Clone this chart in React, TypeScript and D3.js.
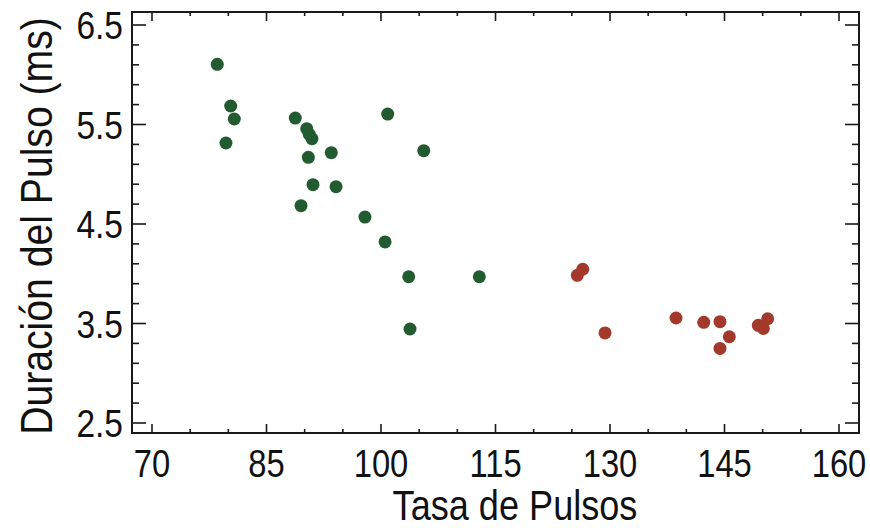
import React from "react";
import * as d3 from "d3";

const greenX = [78.55, 80.31, 80.78, 79.69, 88.77, 90.27, 90.61, 90.96, 90.48, 93.49, 91.09, 94.11, 89.52, 97.9, 100.88, 105.6, 100.53, 103.63, 112.88, 103.8];
const greenY = [6.105, 5.686, 5.555, 5.314, 5.565, 5.458, 5.4, 5.357, 5.17, 5.217, 4.895, 4.875, 4.684, 4.57, 5.605, 5.237, 4.32, 3.97, 3.97, 3.445];
const redX = [126.43, 125.72, 129.35, 138.65, 142.28, 144.41, 145.63, 144.41, 149.43, 150.09, 150.66];
const redY = [4.045, 3.984, 3.405, 3.555, 3.512, 3.518, 3.367, 3.25, 3.482, 3.45, 3.548];
const xTickLabels = [70, 85, 100, 115, 130, 145, 160];
const yTickLabels = [2.5, 3.5, 4.5, 5.5, 6.5];

const W = 870, H = 528;
const L = 132, R = 859, T = 12, B = 433;
const FONT = "'Liberation Sans', Arial, sans-serif";

export default function App() {
  const x = d3.scaleLinear().domain([70, 160]).range([152, 839]);
  const y = d3.scaleLinear().domain([2.5, 6.5]).range([423, 25]);
  const xMinor = d3.range(70, 161, 5);
  const yMinor = d3.range(0, 21).map((i) => 2.5 + i * 0.2);
  const green = greenX.map((v, i) => [v, greenY[i]]);
  const red = redX.map((v, i) => [v, redY[i]]);
  const stroke = "#1a1a1a";
  return (
    <svg width={W} height={H} style={{ position: "absolute", left: 0, top: 0, background: "#fff" }}>
      <rect x={0} y={0} width={W} height={H} fill="#fff" />
      {xMinor.map((v) => {
        const major = xTickLabels.includes(v);
        const len = major ? 9 : 4;
        return (
          <g key={"xt" + v}>
            <line x1={x(v)} x2={x(v)} y1={B} y2={B - len} stroke={stroke} strokeWidth={1.6} />
            <line x1={x(v)} x2={x(v)} y1={T} y2={T + len} stroke={stroke} strokeWidth={1.6} />
          </g>
        );
      })}
      {yMinor.map((v, i) => {
        const major = i % 5 === 0;
        const len = major ? 14 : 7;
        return (
          <g key={"yt" + i}>
            <line x1={L} x2={L + len} y1={y(v)} y2={y(v)} stroke={stroke} strokeWidth={1.6} />
            <line x1={R} x2={R - len} y1={y(v)} y2={y(v)} stroke={stroke} strokeWidth={1.6} />
          </g>
        );
      })}
      <rect x={L} y={T} width={R - L} height={B - T} fill="none" stroke={stroke} strokeWidth={2} />
      {green.map((d, i) => (
        <circle key={"g" + i} cx={x(d[0])} cy={y(d[1])} r={6.5} fill="#215b2f" />
      ))}
      {red.map((d, i) => (
        <circle key={"r" + i} cx={x(d[0])} cy={y(d[1])} r={6.5} fill="#a3392a" />
      ))}
      {xTickLabels.map((v) => (
        <text
          key={"xl" + v}
          transform={`translate(${x(v)}, 477) scale(0.84, 1)`}
          textAnchor="middle"
          fontFamily={FONT}
          fontSize={39}
          fill="#111"
        >
          {v}
        </text>
      ))}
      {yTickLabels.map((v) => (
        <text
          key={"yl" + v}
          transform={`translate(123, ${y(v) + 14}) scale(0.86, 1)`}
          textAnchor="end"
          fontFamily={FONT}
          fontSize={39}
          fill="#111"
        >
          {v.toFixed(1)}
        </text>
      ))}
      <text
        transform="translate(515, 520) scale(0.84, 1)"
        textAnchor="middle"
        fontFamily={FONT}
        fontSize={43}
        fill="#111"
      >
        Tasa de Pulsos
      </text>
      <text
        transform="translate(52, 226) rotate(-90) scale(0.87, 1)"
        textAnchor="middle"
        fontFamily={FONT}
        fontSize={45}
        fill="#111"
      >
        Duración del Pulso (ms)
      </text>
    </svg>
  );
}
